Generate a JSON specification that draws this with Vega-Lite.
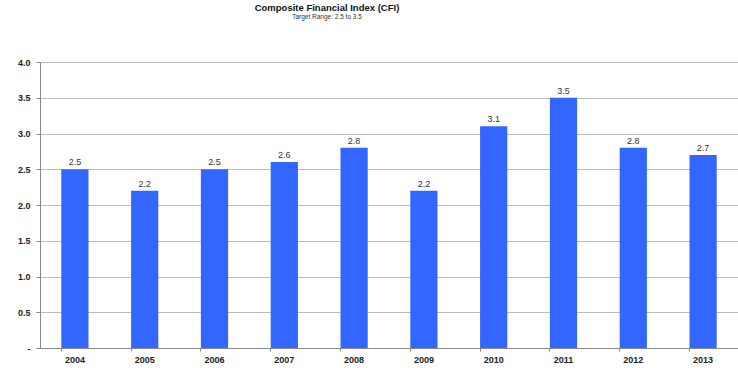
{
  "$schema": "https://vega.github.io/schema/vega-lite/v6.json",
  "width": 698,
  "height": 286,
  "autosize": {"type": "none"},
  "padding": {"left": 40, "top": 62, "right": 0, "bottom": 20},
  "background": "white",
  "title": {
    "text": "Composite Financial Index (CFI)",
    "subtitle": "Target Range:  2.5 to 3.5",
    "anchor": "middle",
    "frame": "group",
    "dx": -62,
    "offset": 38,
    "font": "Liberation Sans",
    "fontSize": 9.5,
    "fontWeight": "bold",
    "color": "#111111",
    "subtitleFont": "Liberation Sans",
    "subtitleFontSize": 6.5,
    "subtitleColor": "#333333",
    "subtitlePadding": 1
  },
  "data": {
    "values": [
      {"year": "2004", "cfi": 2.5},
      {"year": "2005", "cfi": 2.2},
      {"year": "2006", "cfi": 2.5},
      {"year": "2007", "cfi": 2.6},
      {"year": "2008", "cfi": 2.8},
      {"year": "2009", "cfi": 2.2},
      {"year": "2010", "cfi": 3.1},
      {"year": "2011", "cfi": 3.5},
      {"year": "2012", "cfi": 2.8},
      {"year": "2013", "cfi": 2.7}
    ]
  },
  "config": {
    "view": {"stroke": null},
    "axis": {"labelFont": "Liberation Sans", "labelFontWeight": "bold", "labelFontSize": 9, "labelColor": "#222222"}
  },
  "encoding": {
    "x": {
      "field": "year", "type": "nominal",
      "scale": {"paddingInner": 0.61, "paddingOuter": 0.305},
      "axis": {"title": null, "labelAngle": 0, "domainColor": "#888888", "tickColor": "#888888", "tickSize": 3, "bandPosition": 0, "labelPadding": 4, "grid": false}
    },
    "y": {
      "field": "cfi", "type": "quantitative",
      "scale": {"domain": [0, 4]},
      "axis": {"title": null, "values": [0, 0.5, 1, 1.5, 2, 2.5, 3, 3.5, 4], "labelExpr": "datum.value == 0 ? '-' : format(datum.value, '.1f')", "gridColor": "#aaaaaa", "gridWidth": 0.8, "domainColor": "#888888", "tickColor": "#888888", "tickSize": 4, "labelPadding": 6}
    }
  },
  "layer": [
    {"mark": {"type": "bar", "color": "#3366FF"}},
    {
      "mark": {"type": "text", "dy": -7, "font": "Liberation Sans", "fontSize": 9, "color": "#333333"},
      "encoding": {"text": {"field": "cfi", "type": "quantitative", "format": ".1f"}}
    }
  ]
}
